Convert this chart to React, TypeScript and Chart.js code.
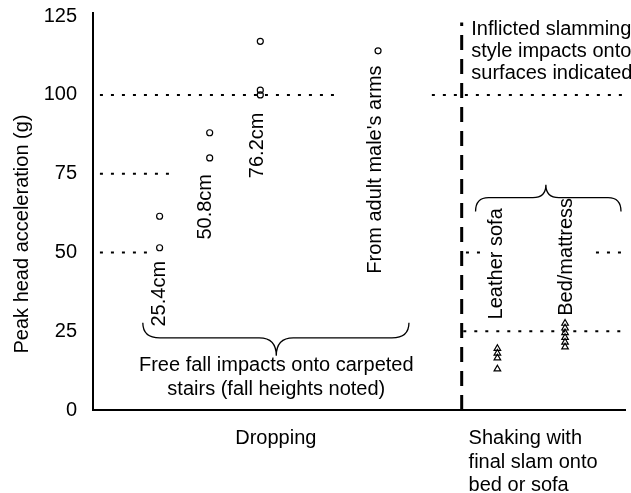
import React, { useEffect, useRef } from 'react';
import { Chart, registerables } from 'chart.js';

Chart.register(...registerables);

// ---- data ----
const Y_TICKS = [0, 25, 50, 75, 100, 125];
const Y_MAX = 126;

const GROUPS = ['25.4cm', '50.8cm', '76.2cm', "From adult male's arms", 'Leather sofa', 'Bed/mattress'];
const GROUP_X = [1.25, 2.19, 3.14, 5.35, 7.59, 8.86];

const V_254 = [61.5, 51.5];
const V_508 = [88, 80];
const V_762 = [117, 101.5, 100];
const V_ARMS = [114];
const V_SOFA = [19.5, 18, 16.5, 13];
const V_BED = [27.5, 26, 24.5, 23, 21.5, 20];

const CATEGORIES: (string | string[])[] = ['Dropping', ['Shaking with', 'final slam onto', 'bed or sofa']];
const CATEGORY_X = [2.67, 7.05];

const REF_LEVELS = [100, 75, 50, 25];

// ---- layout of annotations (data units) ----
const REF_SPANS: Array<Array<[number, number]>> = [
  [[0.13, 4.65], [6.36, 10]],
  [[0.13, 1.57]],
  [[0.13, 1.07], [7.0, 7.27], [9.44, 10]],
  [[6.95, 10]],
];
const DIVIDER_X = 6.92;
const DIVIDER_TOP = 123;

const LABEL_POS: Array<[number, number]> = [
  [1.25, 36.9],
  [2.11, 64.5],
  [3.08, 84],
  [5.31, 76.3],
  [7.58, 46.4],
  [8.88, 48.6],
];

const FREE_FALL_TEXT = ['Free fall impacts onto carpeted', 'stairs (fall heights noted)'];
const FREE_FALL_POS: Array<[number, number]> = [[3.44, 14.0], [3.44, 6.4]];
const INFLICTED_TEXT = ['Inflicted slamming', 'style impacts onto', 'surfaces indicated'];
const INFLICTED_POS: Array<[number, number]> = [[7.1, 120.8], [7.1, 113.8], [7.1, 106.8]];

const BRACES = [
  { x1: 0.935, x2: 5.93, xc: 3.44, yEnd: 27.7, yLine: 22.9, yTip: 17.2, r: 17, r2: 17 },
  { x1: 7.18, x2: 9.91, xc: 8.5, yEnd: 63, yLine: 67.4, yTip: 71.5, r: 13, r2: 13 },
];

const Y_TITLE = 'Peak head acceleration (g)';
const FONT_FAMILY = '"Liberation Sans", Arial, Helvetica, sans-serif';
const FONT = `20px ${FONT_FAMILY}`;

const annotationPlugin = {
  id: 'annotations',
  beforeDatasetsDraw(chart: any) {
    const ctx = chart.ctx;
    const xs = chart.scales.x;
    const ys = chart.scales.y;
    const X = (v: number) => xs.getPixelForValue(v);
    const Y = (v: number) => ys.getPixelForValue(v);
    ctx.save();
    ctx.strokeStyle = '#000';
    ctx.lineWidth = 2;
    ctx.setLineDash([3, 8]);
    REF_LEVELS.forEach((lvl, i) => {
      REF_SPANS[i].forEach(([a, b]) => {
        ctx.beginPath();
        ctx.moveTo(X(a), Y(lvl));
        ctx.lineTo(X(b), Y(lvl));
        ctx.stroke();
      });
    });
    ctx.lineWidth = 3;
    ctx.setLineDash([15, 9]);
    ctx.beginPath();
    ctx.moveTo(X(DIVIDER_X), Y(0));
    ctx.lineTo(X(DIVIDER_X), Y(DIVIDER_TOP));
    ctx.stroke();
    ctx.restore();
  },
  afterDatasetsDraw(chart: any) {
    const ctx = chart.ctx;
    const xs = chart.scales.x;
    const ys = chart.scales.y;
    const X = (v: number) => xs.getPixelForValue(v);
    const Y = (v: number) => ys.getPixelForValue(v);
    ctx.save();
    // braces
    ctx.strokeStyle = '#000';
    ctx.lineWidth = 1.3;
    ctx.setLineDash([]);
    BRACES.forEach((b) => {
      const x1 = X(b.x1), x2 = X(b.x2), xc = X(b.xc);
      const yE = Y(b.yEnd), yL = Y(b.yLine), yT = Y(b.yTip);
      ctx.beginPath();
      ctx.moveTo(x1, yE);
      ctx.quadraticCurveTo(x1, yL, x1 + b.r, yL);
      ctx.lineTo(xc - b.r2, yL);
      ctx.quadraticCurveTo(xc, yL, xc, yT);
      ctx.quadraticCurveTo(xc, yL, xc + b.r2, yL);
      ctx.lineTo(x2 - b.r, yL);
      ctx.quadraticCurveTo(x2, yL, x2, yE);
      ctx.stroke();
    });
    // texts
    ctx.fillStyle = '#000';
    ctx.font = FONT;
    ctx.textBaseline = 'middle';
    ctx.textAlign = 'center';
    GROUPS.forEach((g, i) => {
      const [lx, ly] = LABEL_POS[i];
      ctx.save();
      ctx.translate(X(lx), Y(ly));
      ctx.rotate(-Math.PI / 2);
      ctx.fillText(g, 0, 0);
      ctx.restore();
    });
    FREE_FALL_TEXT.forEach((t, i) => {
      ctx.fillText(t, X(FREE_FALL_POS[i][0]), Y(FREE_FALL_POS[i][1]));
    });
    ctx.textAlign = 'left';
    INFLICTED_TEXT.forEach((t, i) => {
      ctx.fillText(t, X(INFLICTED_POS[i][0]), Y(INFLICTED_POS[i][1]));
    });
    // y axis title
    ctx.textAlign = 'center';
    ctx.save();
    ctx.translate(22, 234);
    ctx.rotate(-Math.PI / 2);
    ctx.fillText(Y_TITLE, 0, 0);
    ctx.restore();
    ctx.restore();
  },
};

const mk = (xi: number, vals: number[], style: string, radius: number) => ({
  label: GROUPS[xi],
  data: vals.map((v) => ({ x: GROUP_X[xi], y: v })),
  pointStyle: style,
  pointRadius: radius,
  pointBorderWidth: 1.2,
  borderColor: '#000',
  backgroundColor: 'rgba(255,255,255,0)',
  showLine: false,
});

export default function App() {
  const ref = useRef<HTMLCanvasElement | null>(null);
  useEffect(() => {
    document.body.style.margin = '0';
    Chart.defaults.font.family = FONT_FAMILY;
    Chart.defaults.color = '#000';
    const chart = new Chart(ref.current as HTMLCanvasElement, {
      type: 'scatter',
      data: {
        datasets: [
          mk(0, V_254, 'circle', 3),
          mk(1, V_508, 'circle', 3),
          mk(2, V_762, 'circle', 3),
          mk(3, V_ARMS, 'circle', 3),
          mk(4, V_SOFA, 'triangle', 3.8),
          mk(5, V_BED, 'triangle', 3.8),
        ] as any,
      },
      options: {
        animation: false,
        responsive: false,
        maintainAspectRatio: false,
        layout: { padding: { top: 13, right: 3, left: 0, bottom: 0 } },
        plugins: { legend: { display: false }, tooltip: { enabled: false } },
        scales: {
          x: {
            type: 'linear',
            min: 0,
            max: 10,
            grid: { display: false },
            border: { display: true, color: '#000', width: 2 },
            afterBuildTicks: (s: any) => {
              s.ticks = CATEGORY_X.map((v) => ({ value: v }));
            },
            afterFit: (s: any) => {
              s.height = 83;
              s.paddingLeft = 0;
              s.paddingRight = 0;
            },
            ticks: {
              autoSkip: false,
              maxRotation: 0,
              minRotation: 0,
              align: 'start',
              padding: 9,
              font: { size: 20, lineHeight: 1.17 },
              color: '#000',
              callback: (v: any) => {
                const i = CATEGORY_X.indexOf(Number(v));
                return i >= 0 ? (CATEGORIES[i] as any) : '';
              },
            },
          },
          y: {
            type: 'linear',
            min: 0,
            max: Y_MAX,
            grid: { display: false },
            border: { display: true, color: '#000', width: 2 },
            afterBuildTicks: (s: any) => {
              s.ticks = Y_TICKS.map((v) => ({ value: v }));
            },
            afterFit: (s: any) => {
              s.width = 93;
              s.paddingTop = 0;
              s.paddingBottom = 0;
            },
            ticks: {
              padding: 8,
              font: { size: 20 },
              color: '#000',
            },
          },
        },
      } as any,
      plugins: [annotationPlugin],
    });
    return () => chart.destroy();
  }, []);
  return (
    <div style={{ width: 631, height: 493 }}>
      <canvas ref={ref} width={631} height={493} style={{ width: 631, height: 493, display: 'block' }} />
    </div>
  );
}
